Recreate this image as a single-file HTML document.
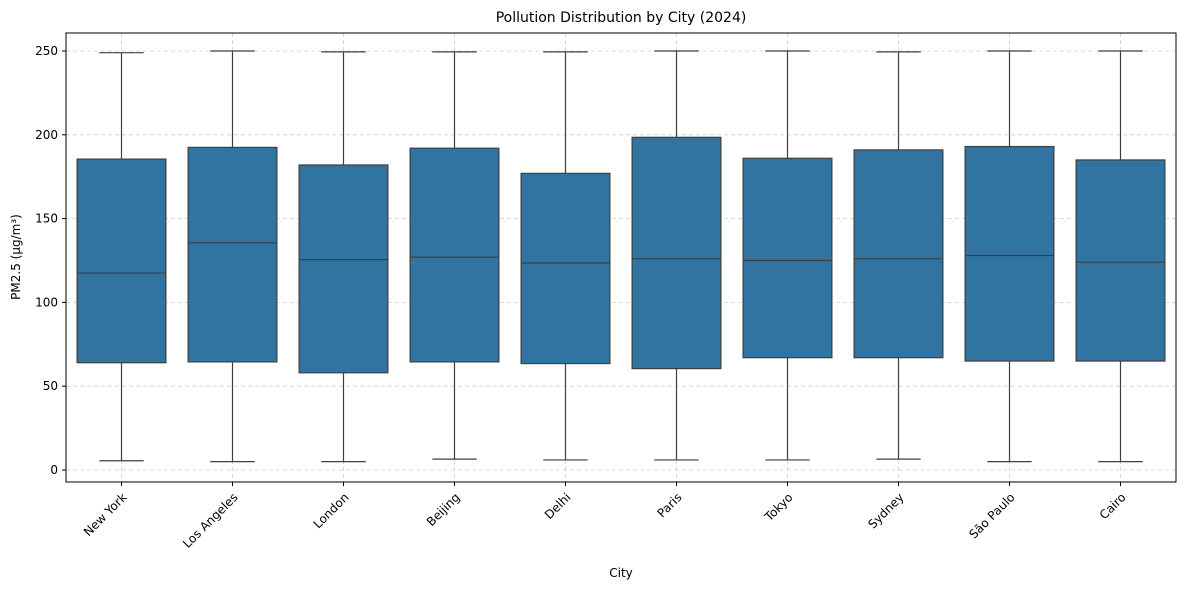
<!DOCTYPE html>
<html><head><meta charset="utf-8"><style>
body{margin:0;background:#fff;font-family:"Liberation Sans","DejaVu Sans",sans-serif;}
</style></head><body>
<svg id="chart" width="1189" height="590" xmlns="http://www.w3.org/2000/svg" font-family="'DejaVu Sans','Liberation Sans',sans-serif">
<text x="621" y="22" text-anchor="middle" font-size="14">Pollution Distribution by City (2024)</text>
<text x="621" y="577" text-anchor="middle" font-size="12">City</text>
<text transform="translate(20,257) rotate(-90)" text-anchor="middle" font-size="12">PM2.5 (µg/m³)</text>
<g id="grid"></g><g id="boxes"></g><g id="axes"></g>
</svg>
<script>
const cities=["New York","Los Angeles","London","Beijing","Delhi","Paris","Tokyo","Sydney","São Paulo","Cairo"];
const whiskerLow=[5.5,5,5,6.5,6,6,6,6.5,5,5];
const q1=[64,64.5,58,64.5,63.5,60.5,67,67,65,65];
const median=[117.5,135.5,125.5,127,123.5,126,125,126,128,124];
const q3=[185.5,192.5,182,192,177,198.5,186,191,193,185];
const whiskerHigh=[249,250,249.5,249.5,249.5,250,250,249.5,250,250];
const yTicks=[0,50,100,150,200,250];
const L=66,R=1176,T=33,B=482;
const y=v=>470-v*(419/250);
const band=(R-L)/cities.length;
const x=i=>L+band*(i+0.5);
const ns="http://www.w3.org/2000/svg";
function mk(p,t,a){const e=document.createElementNS(ns,t);for(const k in a)e.setAttribute(k,a[k]);p.appendChild(e);return e;}
const grid=document.getElementById('grid'),boxes=document.getElementById('boxes'),axes=document.getElementById('axes');
yTicks.forEach(v=>{
 const g=mk(grid,'line',{x1:L,x2:R,y1:y(v),y2:y(v),stroke:'#cfcfcf','stroke-dasharray':'4,3','stroke-width':0.8});
 
 
 mk(axes,'line',{x1:L-4,x2:L,y1:y(v),y2:y(v),stroke:'#000'});
 const t=mk(axes,'text',{x:L-8,y:y(v)+4,'text-anchor':'end','font-size':12});t.textContent=v;
 
 
});
cities.forEach((c,i)=>{
 const cx=x(i),w=band*0.8;
 const g=mk(grid,'line',{x1:cx,x2:cx,y1:T,y2:B,stroke:'#cfcfcf','stroke-dasharray':'4,3','stroke-width':0.8});
 
 
 const grp=mk(boxes,'g',{});
 
 
 const s={stroke:'#3f3f3f','stroke-width':1.2};
 mk(grp,'line',Object.assign({x1:cx,x2:cx,y1:y(whiskerLow[i]),y2:y(q1[i])},s));
 mk(grp,'line',Object.assign({x1:cx,x2:cx,y1:y(q3[i]),y2:y(whiskerHigh[i])},s));
 mk(grp,'line',Object.assign({x1:cx-w/4,x2:cx+w/4,y1:y(whiskerLow[i]),y2:y(whiskerLow[i])},s));
 mk(grp,'line',Object.assign({x1:cx-w/4,x2:cx+w/4,y1:y(whiskerHigh[i]),y2:y(whiskerHigh[i])},s));
 mk(grp,'rect',Object.assign({x:cx-w/2,y:y(q3[i]),width:w,height:y(q1[i])-y(q3[i]),fill:'#3274a1'},s));
 mk(grp,'line',Object.assign({x1:cx-w/2,x2:cx+w/2,y1:y(median[i]),y2:y(median[i])},s));
 mk(axes,'line',{x1:cx,x2:cx,y1:B,y2:B+4,stroke:'#000'});
 const t=mk(axes,'text',{transform:`translate(${cx+6},${B+16}) rotate(-45)`,'text-anchor':'end','font-size':12});t.textContent=c;
 
 
});
const fr=mk(axes,'rect',{x:L,y:T,width:R-L,height:B-T,fill:'none',stroke:'#000','stroke-width':1});


</script>
</body></html>
